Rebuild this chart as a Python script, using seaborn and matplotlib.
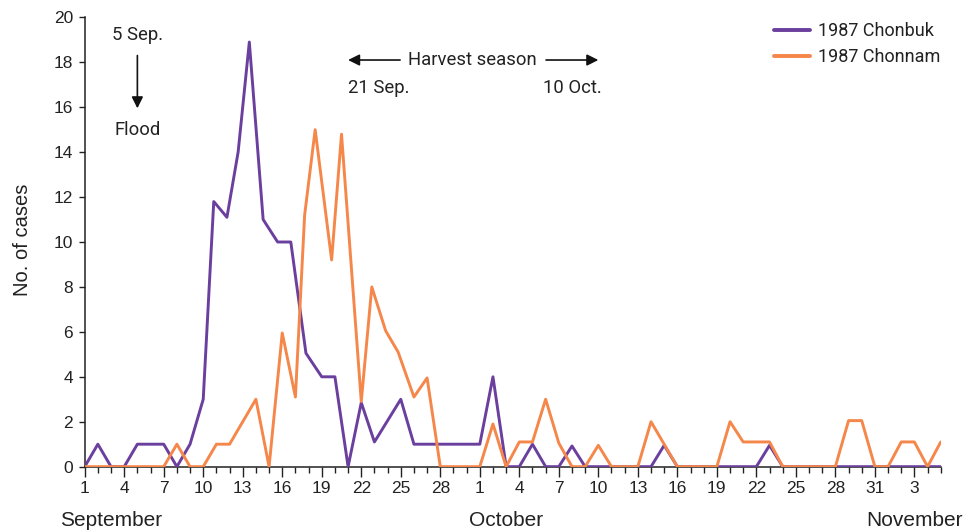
import matplotlib
matplotlib.use("Agg")
import matplotlib.pyplot as plt
import matplotlib.transforms as mtransforms
import seaborn as sns
import pandas as pd

# ---- data (day offset from 1 September, number of cases) ----
chonbuk_day = [0, 1, 2, 3, 4, 5, 6, 7, 8, 9, 9.8, 10.8, 11.65, 12.5, 13.55, 14.65,
               15.65, 16.8, 18, 19, 20, 21, 22, 23, 24, 25, 26, 27, 28, 29, 30, 31,
               32, 33, 34, 35, 36, 37, 38, 39, 40, 41, 42, 43, 44, 45, 46, 47, 48,
               49, 50, 51, 52, 53, 54, 55, 56, 57, 58, 59, 60, 61, 62, 63, 64, 65]
chonbuk_cases = [0, 1, 0, 0, 1, 1, 1, 0, 1, 3, 11.8, 11.1, 14, 18.9, 11, 10,
                 10, 5.05, 4, 4, 0, 2.85, 1.1, 2.05, 3, 1, 1, 1, 1, 1, 1, 4,
                 0, 0, 1, 0, 0, 0.92, 0, 0, 0, 0, 0, 0, 0.95, 0, 0, 0, 0,
                 0, 0, 0, 0.95, 0, 0, 0, 0, 0, 0, 0, 0, 0, 0, 0, 0, 0]

chonnam_day = [0, 1, 2, 3, 4, 5, 6, 7, 8, 9, 10, 11, 12, 13, 14, 15, 16, 16.7,
               17.5, 18.75, 19.5, 21, 21.8, 22.85, 23.8, 25, 26, 27, 28, 29, 30,
               31, 32, 33, 34, 35, 36, 37, 38, 39, 40, 41, 42, 43, 44, 45, 46, 47,
               48, 49, 50, 51, 52, 53, 54, 55, 56, 57, 58, 59, 60, 61, 62, 63, 64, 65]
chonnam_cases = [0, 0, 0, 0, 0, 0, 0, 1, 0, 0, 1, 1, 2, 3, 0, 5.95, 3.1, 11.2,
                 15, 9.2, 14.8, 2.9, 8, 6.05, 5.1, 3.1, 3.95, 0, 0, 0, 0,
                 1.9, 0, 1.1, 1.1, 3, 1.05, 0, 0, 0.95, 0, 0, 0, 2, 1, 0, 0, 0,
                 0, 2, 1.1, 1.1, 1.1, 0, 0, 0, 0, 0, 2.05, 2.05, 0, 0, 1.1, 1.1, 0, 1.1]

series_names = ["1987 Chonbuk", "1987 Chonnam"]
series_colors = ["#6a3f9e", "#f5874a"]

tick_days = list(range(0, 64, 3))
tick_labels = ["1", "4", "7", "10", "13", "16", "19", "22", "25", "28",
               "1", "4", "7", "10", "13", "16", "19", "22", "25", "28", "31", "3"]
month_names = ["September", "October", "November"]
month_label_days = [2, 32, 63]

df = pd.concat([
    pd.DataFrame({"day": chonbuk_day, "cases": chonbuk_cases, "series": series_names[0]}),
    pd.DataFrame({"day": chonnam_day, "cases": chonnam_cases, "series": series_names[1]}),
], ignore_index=True)

sns.set_theme(style="ticks")
plt.rcParams["font.family"] = ["Liberation Sans", "DejaVu Sans"]

fig = plt.figure(figsize=(9.78, 5.30), dpi=100)
ax = fig.add_axes([0.0866, 0.1195, 0.8753, 0.8478])

sns.lineplot(data=df, x="day", y="cases", hue="series", hue_order=series_names,
             palette=series_colors, linewidth=2.1, sort=False, estimator=None,
             ax=ax, legend=True)

ax.set_xlim(0, 65)
ax.set_ylim(0, 20)
ax.set_xticks(tick_days)
ax.set_xticklabels(tick_labels)
ax.set_xticks(range(0, 66), minor=True)
ax.set_yticks(range(0, 21, 2))
ax.tick_params(axis="x", which="major", length=7, width=1, pad=3.5, labelsize=12.5,
               colors="#222222")
ax.tick_params(axis="x", which="minor", length=4.5, width=1, color="#222222")
ax.tick_params(axis="y", which="major", length=4.5, width=1, pad=4, labelsize=12.5,
               colors="#222222")
for s in ["top", "right"]:
    ax.spines[s].set_visible(False)
for s in ["left", "bottom"]:
    ax.spines[s].set_color("#222222")
    ax.spines[s].set_linewidth(1.1)
    ax.spines[s].set_zorder(1)

ax.set_xlabel("")
ax.set_ylabel("No. of cases", fontsize=14.5, color="#222222")
ax.yaxis.set_label_coords(-0.062, 0.504)

trans = mtransforms.blended_transform_factory(ax.transData, ax.transAxes)
for name, d in zip(month_names, month_label_days):
    ax.text(d, -0.132, name, transform=trans, ha="center", va="baseline",
            fontsize=15, color="#222222")

ann_font = ["Roboto", "DejaVu Sans"]
ann_size = 13.3
# Flood annotation
ax.text(4, 19.2, "5 Sep.", ha="center", va="center", fontsize=ann_size,
        family=ann_font, color="#222222")
ax.annotate("", xy=(4, 15.95), xytext=(4, 18.3),
            arrowprops=dict(arrowstyle="-|>", color="#111111", lw=1.2,
                            mutation_scale=17, shrinkA=0, shrinkB=0))
ax.text(4, 15.0, "Flood", ha="center", va="center", fontsize=ann_size,
        family=ann_font, color="#222222")

# Harvest season annotation
ax.annotate("", xy=(20, 18.1), xytext=(23.95, 18.1),
            arrowprops=dict(arrowstyle="-|>", color="#111111", lw=1.2,
                            mutation_scale=17, shrinkA=0, shrinkB=0))
ax.annotate("", xy=(39, 18.1), xytext=(35.03, 18.1),
            arrowprops=dict(arrowstyle="-|>", color="#111111", lw=1.2,
                            mutation_scale=17, shrinkA=0, shrinkB=0))
ax.text(29.4, 18.1, "Harvest season", ha="center", va="center", fontsize=ann_size,
        family=ann_font, color="#222222")
ax.text(20, 16.85, "21 Sep.", ha="left", va="center", fontsize=ann_size,
        family=ann_font, color="#222222")
ax.text(39.25, 16.85, "10 Oct.", ha="right", va="center", fontsize=ann_size,
        family=ann_font, color="#222222")

leg = ax.legend(loc="upper right", bbox_to_anchor=(1.0, 0.989), frameon=False,
                borderaxespad=0.0, borderpad=0.0, handlelength=2.0,
                handletextpad=0.45, labelspacing=0.44,
                prop={"family": ann_font, "size": 13})
for t in leg.get_texts():
    t.set_color("#222222")
for h in leg.get_lines():
    h.set_linewidth(2.8)

fig.savefig("out.png", dpi=100)
